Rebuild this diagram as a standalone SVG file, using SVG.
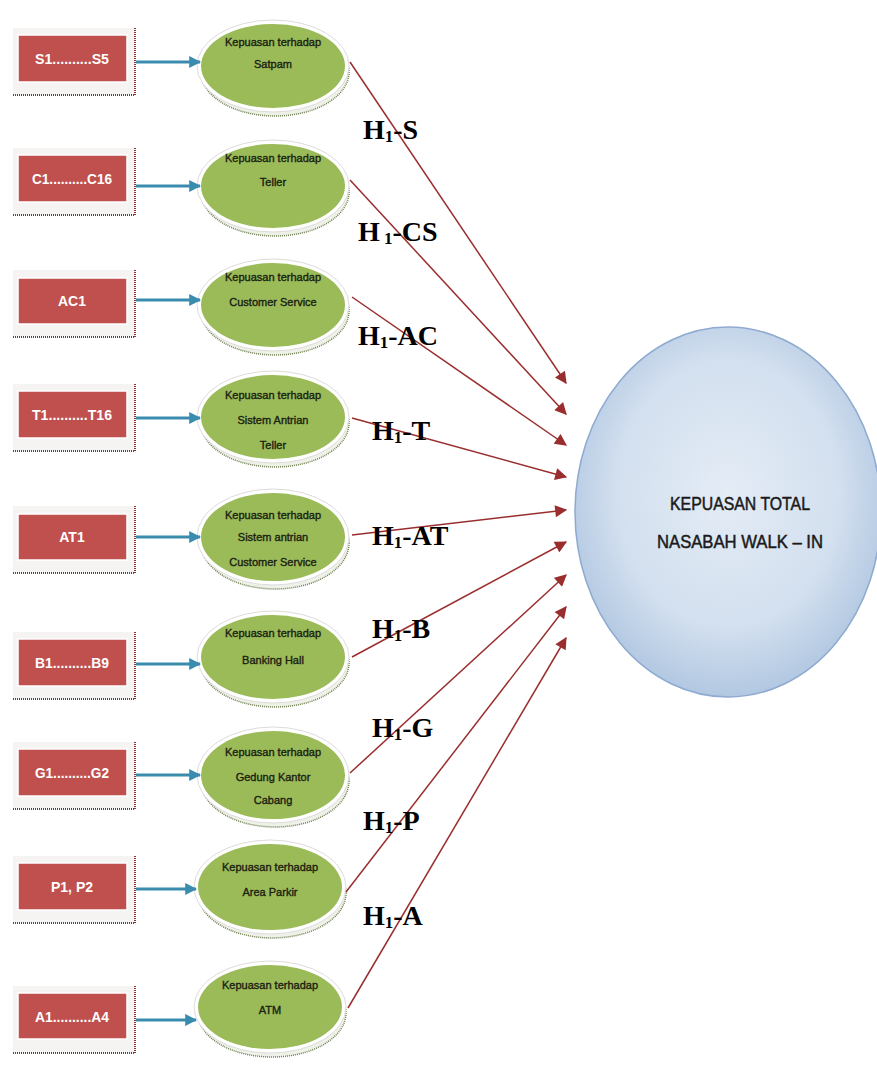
<svg xmlns="http://www.w3.org/2000/svg" width="877" height="1072" viewBox="0 0 877 1072">
  <defs>
    <radialGradient id="bigFill" cx="0.5" cy="0.45" r="0.6">
      <stop offset="0" stop-color="#e4ecf6"/>
      <stop offset="0.6" stop-color="#d3e0ef"/>
      <stop offset="1" stop-color="#a9c1de"/>
    </radialGradient>
    <marker id="blueHead" viewBox="0 0 10 10" refX="9" refY="5" markerWidth="4" markerHeight="4" orient="auto" markerUnits="strokeWidth">
      <path d="M0,0 L10,5 L0,10 z" fill="#3a8cae"/>
    </marker>
    <marker id="redHead" viewBox="0 0 10 10" refX="9" refY="5" markerWidth="9" markerHeight="8" orient="auto" markerUnits="strokeWidth">
      <path d="M0,0 L10,5 L0,10 z" fill="#9a2e2e"/>
    </marker>
  </defs>
  <style>
    .box-back { fill: #f6f3f3; }
    .box-edge { stroke: #8d3030; stroke-width: 2; stroke-dasharray: 1 1; fill: none; }
    .box { fill: #c0504d; stroke: #ffffff; stroke-width: 1.5; }
    .box-text { font-family: "Liberation Sans", Arial, sans-serif; font-weight: bold; font-size: 14px; fill: #ffffff; text-anchor: middle; }
    .rim-shadow { fill: #eef1e8; stroke: #6f7f50; stroke-width: 1.5; stroke-dasharray: 1 1; }
    .rim { fill: #ffffff; stroke: #dcdcdc; stroke-width: 1; }
    .disc { fill: #9bbb59; }
    .disc-text { font-family: "Liberation Sans", Arial, sans-serif; font-size: 11px; fill: #1a2010; stroke: #1a2010; stroke-width: 0.35; text-anchor: middle; }
    .feed { stroke: #3a8cae; stroke-width: 3; fill: none; marker-end: url(#blueHead); }
    .path { stroke: #9a2e2e; stroke-width: 1.5; fill: none; marker-end: url(#redHead); }
    .hyp { font-family: "Liberation Serif", "Times New Roman", serif; font-weight: bold; font-size: 28px; fill: #000000; }
    .sub { font-size: 17px; }
    .big { fill: url(#bigFill); stroke: #8eaad0; stroke-width: 1.5; }
    .big-text { font-family: "Liberation Sans", Arial, sans-serif; font-size: 19px; fill: #1a1a1a; stroke: #1a1a1a; stroke-width: 0.5; text-anchor: middle; }
  </style>

  <rect width="877" height="1072" fill="#ffffff"/>

  <!-- indicator boxes -->
  <g id="box-s">
    <rect class="box-back" x="13" y="28" width="122" height="67"/>
    <path class="box-edge" d="M13,95 H135 V28"/>
    <rect class="box" x="18" y="35" width="109" height="47"/>
    <text class="box-text" x="72" y="64" textLength="74" lengthAdjust="spacingAndGlyphs">S1..........S5</text>
  </g>
  <g id="box-c">
    <rect class="box-back" x="13" y="148" width="122" height="67"/>
    <path class="box-edge" d="M13,215 H135 V148"/>
    <rect class="box" x="18" y="155" width="109" height="47"/>
    <text class="box-text" x="72" y="184" textLength="80" lengthAdjust="spacingAndGlyphs">C1..........C16</text>
  </g>
  <g id="box-ac">
    <rect class="box-back" x="13" y="270" width="122" height="67"/>
    <path class="box-edge" d="M13,337 H135 V270"/>
    <rect class="box" x="18" y="278" width="109" height="46"/>
    <text class="box-text" x="72" y="306">AC1</text>
  </g>
  <g id="box-t">
    <rect class="box-back" x="13" y="384" width="122" height="67"/>
    <path class="box-edge" d="M13,451 H135 V384"/>
    <rect class="box" x="18" y="391" width="109" height="47"/>
    <text class="box-text" x="72" y="420" textLength="80" lengthAdjust="spacingAndGlyphs">T1..........T16</text>
  </g>
  <g id="box-at">
    <rect class="box-back" x="13" y="506" width="122" height="67"/>
    <path class="box-edge" d="M13,573 H135 V506"/>
    <rect class="box" x="18" y="514" width="109" height="46"/>
    <text class="box-text" x="72" y="542">AT1</text>
  </g>
  <g id="box-b">
    <rect class="box-back" x="13" y="632" width="122" height="67"/>
    <path class="box-edge" d="M13,699 H135 V632"/>
    <rect class="box" x="18" y="639" width="109" height="47"/>
    <text class="box-text" x="72" y="668" textLength="74" lengthAdjust="spacingAndGlyphs">B1..........B9</text>
  </g>
  <g id="box-g">
    <rect class="box-back" x="13" y="742" width="122" height="67"/>
    <path class="box-edge" d="M13,809 H135 V742"/>
    <rect class="box" x="18" y="749" width="109" height="47"/>
    <text class="box-text" x="72" y="778" textLength="74" lengthAdjust="spacingAndGlyphs">G1..........G2</text>
  </g>
  <g id="box-p">
    <rect class="box-back" x="13" y="856" width="122" height="67"/>
    <path class="box-edge" d="M13,923 H135 V856"/>
    <rect class="box" x="18" y="863" width="109" height="47"/>
    <text class="box-text" x="72" y="892">P1, P2</text>
  </g>
  <g id="box-a">
    <rect class="box-back" x="13" y="986" width="122" height="67"/>
    <path class="box-edge" d="M13,1053 H135 V986"/>
    <rect class="box" x="18" y="993" width="109" height="46"/>
    <text class="box-text" x="72" y="1022" textLength="74" lengthAdjust="spacingAndGlyphs">A1..........A4</text>
  </g>

  <!-- satisfaction discs -->
  <g id="disc-satpam">
    <ellipse class="rim-shadow" cx="275" cy="72" rx="74" ry="44"/>
    <ellipse class="rim" cx="273" cy="66" rx="76" ry="46"/>
    <ellipse class="disc" cx="273" cy="66" rx="72" ry="42"/>
    <text class="disc-text" x="273" y="46">Kepuasan terhadap</text>
    <text class="disc-text" x="273" y="68">Satpam</text>
  </g>
  <g id="disc-teller">
    <ellipse class="rim-shadow" cx="275" cy="192" rx="74" ry="44"/>
    <ellipse class="rim" cx="273" cy="186" rx="76" ry="46"/>
    <ellipse class="disc" cx="273" cy="186" rx="72" ry="42"/>
    <text class="disc-text" x="273" y="162">Kepuasan terhadap</text>
    <text class="disc-text" x="273" y="186">Teller</text>
  </g>
  <g id="disc-cs">
    <ellipse class="rim-shadow" cx="275" cy="311" rx="74" ry="44"/>
    <ellipse class="rim" cx="273" cy="305" rx="76" ry="46"/>
    <ellipse class="disc" cx="273" cy="305" rx="72" ry="42"/>
    <text class="disc-text" x="273" y="281">Kepuasan terhadap</text>
    <text class="disc-text" x="273" y="306">Customer Service</text>
  </g>
  <g id="disc-antrian-teller">
    <ellipse class="rim-shadow" cx="275" cy="423" rx="74" ry="44"/>
    <ellipse class="rim" cx="273" cy="417" rx="76" ry="46"/>
    <ellipse class="disc" cx="273" cy="417" rx="72" ry="42"/>
    <text class="disc-text" x="273" y="399">Kepuasan terhadap</text>
    <text class="disc-text" x="273" y="424">Sistem Antrian</text>
    <text class="disc-text" x="273" y="449">Teller</text>
  </g>
  <g id="disc-antrian-cs">
    <ellipse class="rim-shadow" cx="275" cy="543" rx="74" ry="46"/>
    <ellipse class="rim" cx="273" cy="537" rx="76" ry="48"/>
    <ellipse class="disc" cx="273" cy="537" rx="72" ry="44"/>
    <text class="disc-text" x="273" y="519" font-size="9.5">Kepuasan terhadap</text>
    <text class="disc-text" x="273" y="541" font-size="9.5">Sistem antrian</text>
    <text class="disc-text" x="273" y="566">Customer  Service</text>
  </g>
  <g id="disc-banking">
    <ellipse class="rim-shadow" cx="275" cy="663" rx="74" ry="44"/>
    <ellipse class="rim" cx="273" cy="657" rx="76" ry="46"/>
    <ellipse class="disc" cx="273" cy="657" rx="72" ry="42"/>
    <text class="disc-text" x="273" y="637">Kepuasan terhadap</text>
    <text class="disc-text" x="273" y="664">Banking Hall</text>
  </g>
  <g id="disc-gedung">
    <ellipse class="rim-shadow" cx="275" cy="781" rx="74" ry="46"/>
    <ellipse class="rim" cx="273" cy="775" rx="76" ry="48"/>
    <ellipse class="disc" cx="273" cy="775" rx="72" ry="44"/>
    <text class="disc-text" x="273" y="756">Kepuasan terhadap</text>
    <text class="disc-text" x="273" y="781">Gedung Kantor</text>
    <text class="disc-text" x="273" y="804">Cabang</text>
  </g>
  <g id="disc-parkir">
    <ellipse class="rim-shadow" cx="272" cy="893" rx="74" ry="45"/>
    <ellipse class="rim" cx="270" cy="887" rx="76" ry="47"/>
    <ellipse class="disc" cx="270" cy="887" rx="72" ry="43"/>
    <text class="disc-text" x="270" y="871">Kepuasan terhadap</text>
    <text class="disc-text" x="270" y="896">Area Parkir</text>
  </g>
  <g id="disc-atm">
    <ellipse class="rim-shadow" cx="272" cy="1013" rx="74" ry="44"/>
    <ellipse class="rim" cx="270" cy="1007" rx="76" ry="46"/>
    <ellipse class="disc" cx="270" cy="1007" rx="72" ry="42"/>
    <text class="disc-text" x="270" y="989">Kepuasan terhadap</text>
    <text class="disc-text" x="270" y="1014">ATM</text>
  </g>

  <!-- total satisfaction -->
  <g id="total">
    <ellipse class="big" cx="728" cy="512" rx="153" ry="185"/>
    <text class="big-text" x="740" y="510" textLength="140" lengthAdjust="spacingAndGlyphs">KEPUASAN TOTAL</text>
    <text class="big-text" x="740" y="548" textLength="166" lengthAdjust="spacingAndGlyphs">NASABAH WALK – IN</text>
  </g>

  <!-- connectors -->
  <g id="connectors">
    <line class="feed" x1="136" y1="62" x2="200" y2="62"/>
    <line class="feed" x1="136" y1="186" x2="200" y2="186"/>
    <line class="feed" x1="136" y1="300" x2="200" y2="300"/>
    <line class="feed" x1="136" y1="418" x2="200" y2="418"/>
    <line class="feed" x1="136" y1="537" x2="200" y2="537"/>
    <line class="feed" x1="136" y1="664" x2="200" y2="664"/>
    <line class="feed" x1="136" y1="775" x2="200" y2="775"/>
    <line class="feed" x1="136" y1="889" x2="196" y2="889"/>
    <line class="feed" x1="136" y1="1020" x2="196" y2="1020"/>

    <line class="path" x1="350" y1="62" x2="566" y2="383"/>
    <line class="path" x1="350" y1="180" x2="566" y2="414"/>
    <line class="path" x1="352" y1="297" x2="566" y2="445"/>
    <line class="path" x1="352" y1="418" x2="566" y2="477"/>
    <line class="path" x1="352" y1="535" x2="566" y2="510"/>
    <line class="path" x1="352" y1="657" x2="566" y2="542"/>
    <line class="path" x1="350" y1="773" x2="566" y2="575"/>
    <line class="path" x1="346" y1="892" x2="566" y2="607"/>
    <line class="path" x1="348" y1="1008" x2="566" y2="638"/>
  </g>

  <!-- path labels -->
  <g id="labels">
    <text class="hyp" x="363" y="139">H<tspan class="sub" dy="3">1</tspan><tspan dy="-3">-S</tspan></text>
    <text class="hyp" x="358" y="241">H<tspan class="sub" dy="3"> 1</tspan><tspan dy="-3">-CS</tspan></text>
    <text class="hyp" x="358" y="345">H<tspan class="sub" dy="3">1</tspan><tspan dy="-3">-AC</tspan></text>
    <text class="hyp" x="372" y="440">H<tspan class="sub" dy="3">1</tspan><tspan dy="-3">-T</tspan></text>
    <text class="hyp" x="372" y="545">H<tspan class="sub" dy="3">1</tspan><tspan dy="-3">-AT</tspan></text>
    <text class="hyp" x="372" y="638">H<tspan class="sub" dy="3">1</tspan><tspan dy="-3">-B</tspan></text>
    <text class="hyp" x="372" y="737">H<tspan class="sub" dy="3">1</tspan><tspan dy="-3">-G</tspan></text>
    <text class="hyp" x="363" y="830">H<tspan class="sub" dy="3">1</tspan><tspan dy="-3">-P</tspan></text>
    <text class="hyp" x="363" y="925">H<tspan class="sub" dy="3">1</tspan><tspan dy="-3">-A</tspan></text>
  </g>
</svg>
